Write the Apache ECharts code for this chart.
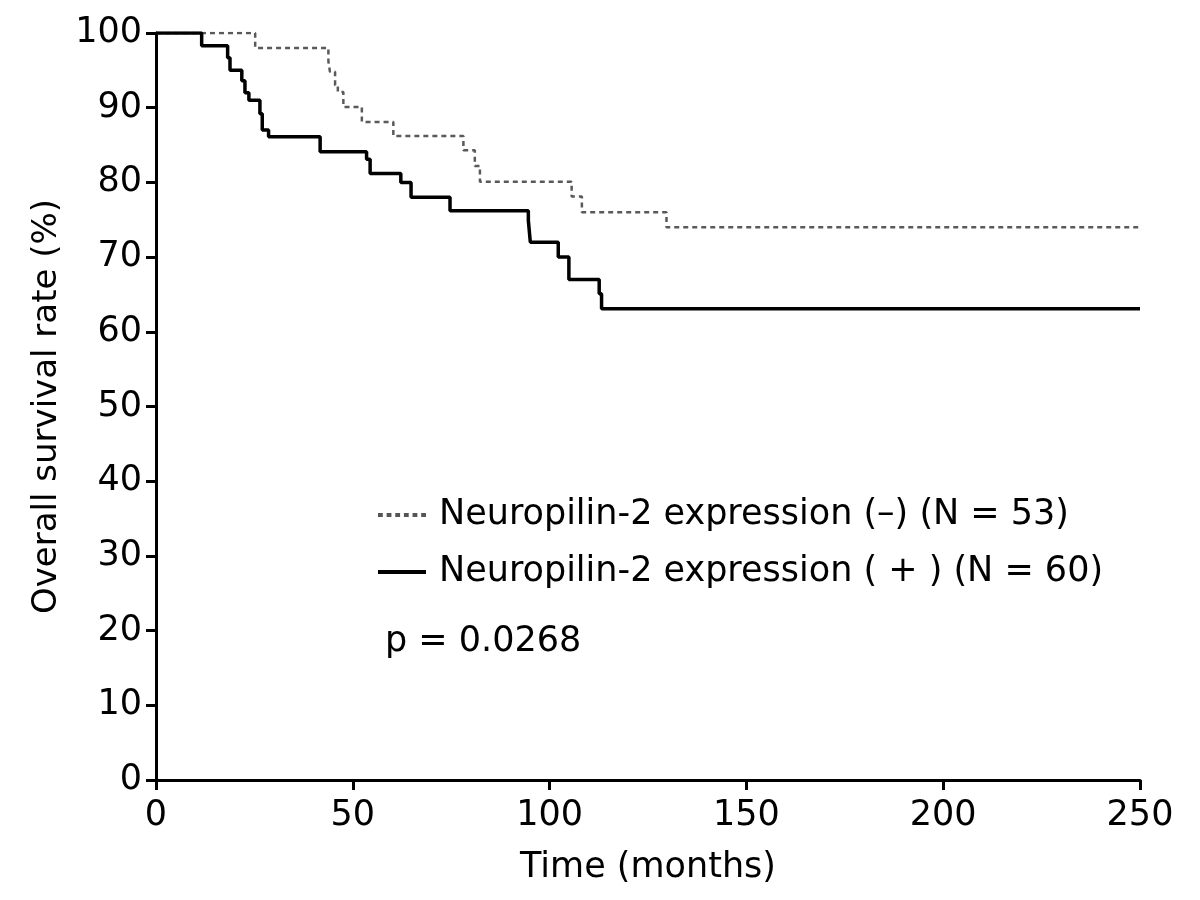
<!DOCTYPE html>
<html>
<head>
<meta charset="utf-8">
<script src="https://cdn.jsdelivr.net/npm/echarts@6/dist/echarts.min.js"></script>
<style>
  html, body { margin: 0; padding: 0; background: #fff; }
  #chart { width: 1200px; height: 900px; }
</style>
</head>
<body>
<div id="chart"></div>
<script>
// Kaplan-Meier steps: event time (months) and survival (%) after that event
const negTimes = [0, 25.2, 43.8, 44.2, 45.5, 46.2, 47.6, 52.3, 60.3, 78.1, 81.0, 82.3, 105.6, 108.2, 129.7, 250];
const negValues = [100, 98.0, 96.2, 94.8, 93.0, 92.1, 90.1, 88.1, 86.2, 84.3, 82.2, 80.1, 78.1, 76.0, 74.0, 74.0];

const posTimes = [0, 11.6, 18.2, 18.8, 21.8, 22.6, 23.6, 26.4, 27.0, 28.6, 41.7, 53.5, 54.4, 62.2, 64.8, 74.7, 94.6, 95.1, 102.2, 104.9, 112.6, 113.2, 250];
const posValues = [100, 98.3, 96.7, 95.0, 93.6, 92.0, 91.0, 89.2, 87.0, 86.1, 84.1, 83.1, 81.2, 80.0, 78.0, 76.2, 74.9, 72.0, 70.0, 67.0, 65.1, 63.1, 63.1];

const seriesNames = ['Neuropilin-2 expression (–) (N = 53)', 'Neuropilin-2 expression ( + ) (N = 60)'];
const pText = 'p = 0.0268';

const font = 'DejaVu Sans';
const chart = echarts.init(document.getElementById('chart'));

const toPairs = (xs, ys) => xs.map((x, i) => [x, ys[i]]);

// legend icons drawn as plain line segments (no symbol)
let dashPath = 'path://';
for (let x = 0; x < 48; x += 9) {
  dashPath += 'M' + x + ',0h5v4h-5z';
}
const solidPath = 'path://M0,0H48V4H0Z';

const axisCommon = {
  axisLine: { show: true, onZero: false, lineStyle: { color: '#000', width: 3 } },
  axisTick: { show: true, inside: false, length: 10, lineStyle: { color: '#000', width: 3 } },
  axisLabel: { color: '#000', fontSize: 35, fontFamily: font },
  splitLine: { show: false },
  nameTextStyle: { color: '#000', fontSize: 35, fontFamily: font }
};

const option = {
  animation: false,
  backgroundColor: '#fff',
  grid: { left: 156, right: 60, top: 33, bottom: 120 },
  xAxis: Object.assign({}, axisCommon, {
    type: 'value',
    min: 0,
    max: 250,
    interval: 50,
    name: 'Time (months)',
    nameLocation: 'middle',
    nameGap: 70,
    axisLabel: Object.assign({}, axisCommon.axisLabel, { margin: 18 })
  }),
  yAxis: Object.assign({}, axisCommon, {
    type: 'value',
    min: 0,
    max: 100,
    interval: 10,
    name: 'Overall survival rate (%)',
    nameLocation: 'middle',
    nameGap: 92,
    nameTextStyle: { color: '#000', fontSize: 34, fontFamily: font },
    axisLabel: Object.assign({}, axisCommon.axisLabel, { margin: 14 })
  }),
  legend: {
    orient: 'vertical',
    left: 378,
    top: 497,
    padding: 0,
    itemWidth: 48,
    itemHeight: 4,
    itemGap: 21,
    data: [
      { name: seriesNames[0], icon: dashPath, itemStyle: { color: '#555' } },
      { name: seriesNames[1], icon: solidPath, itemStyle: { color: '#000' } }
    ],
    textStyle: { color: '#000', fontSize: 35, fontFamily: font, lineHeight: 36, padding: [0, 0, 0, 8] }
  },
  graphic: [{
    type: 'text',
    left: 385,
    top: 624,
    style: { text: pText, fill: '#000', fontSize: 35, fontFamily: font }
  }],
  series: [
    {
      name: seriesNames[0],
      type: 'line',
      step: 'end',
      symbol: 'none',
      data: toPairs(negTimes, negValues),
      lineStyle: { color: '#5a5a5a', width: 2.5, type: [5, 4] },
      itemStyle: { color: '#5a5a5a' }
    },
    {
      name: seriesNames[1],
      type: 'line',
      step: 'end',
      symbol: 'none',
      data: toPairs(posTimes, posValues),
      lineStyle: { color: '#000', width: 3.5 },
      itemStyle: { color: '#000' }
    }
  ]
};

chart.setOption(option);
</script>
</body>
</html>
